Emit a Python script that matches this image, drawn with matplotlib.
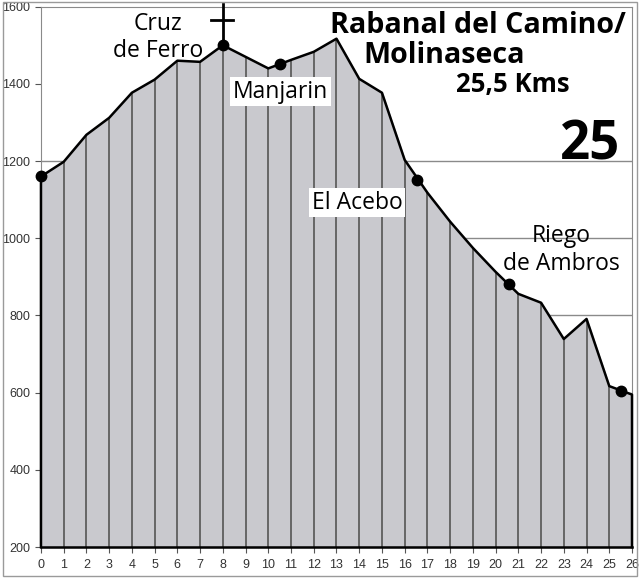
import matplotlib.pyplot as plt
from matplotlib.patches import Rectangle

km = list(range(27))
elevation = [1160, 1198, 1268, 1312, 1377, 1411, 1460, 1457, 1500, 1470,
             1440, 1462, 1483, 1517, 1413, 1377, 1203, 1118, 1043, 975,
             913, 856, 833, 739, 791, 617, 595]

# villages on the way (km, altitude)
stop_km = [0, 8, 10.5, 16.55, 20.6, 25.5]
stop_alt = [1160, 1500, 1452, 1152, 882, 604]

y_ticks = [200, 400, 600, 800, 1000, 1200, 1400, 1600]

fig = plt.figure(figsize=(6.4, 5.78), dpi=100)
ax = fig.add_axes([0.064, 0.0535, 0.9235, 0.935])

ax.set_xlim(0, 26)
ax.set_ylim(200, 1600)

# grid behind the profile (only the lower lines show)
for y in [400, 600, 800, 1000, 1200]:
    ax.axhline(y, color='#8a8a8a', lw=1.0, zorder=0)

ax.fill_between(km, 200, elevation, color='#c9c9ce', zorder=1)
ax.vlines(km[1:-1], 200, elevation[1:-1], color='#5e5e5e', lw=1.3, zorder=2)
ax.plot([0] + km + [26], [200] + elevation + [200], color='black', lw=1.8, zorder=3,
        clip_on=False)
ax.plot([0, 26], [200, 200], color='black', lw=1.8, zorder=3, clip_on=False)
ax.plot(stop_km, stop_alt, 'o', color='black', ms=7.5, zorder=4, clip_on=False)

# cross at Cruz de Ferro
ax.plot([8, 8], [1500, 1606], color='black', lw=2, clip_on=False, zorder=4)
ax.plot([7.5, 8.45], [1566, 1566], color='black', lw=2, clip_on=False, zorder=4)

ax.set_xticks(km)
ax.set_yticks(y_ticks)
ax.tick_params(axis='both', labelsize=9, colors='#555555', labelcolor='#333333',
               length=4, direction='out')
ax.tick_params(axis='x', pad=4.5)
for lab in ax.get_xticklabels() + ax.get_yticklabels():
    lab.set_family('Liberation Sans')
for side in ['top', 'right', 'left']:
    ax.spines[side].set_color('#8a8a8a')
ax.spines['bottom'].set_color('black')

txt = dict(family='Open Sans', color='black', zorder=6)
ax.text(5.15, 1520, 'Cruz\nde Ferro', fontsize=16.5, ha='center', va='center',
        linespacing=1.12, **txt)
ax.text(10.55, 1380, 'Manjarin', fontsize=16.5, ha='center', va='center',
        bbox=dict(facecolor='white', edgecolor='none', pad=2), **txt)
ax.text(13.9, 1092, 'El Acebo', fontsize=16.5, ha='center', va='center',
        bbox=dict(facecolor='white', edgecolor='none', pad=2), **txt)
ax.text(22.9, 970, 'Riego\nde Ambros', fontsize=16.5, ha='center', va='center',
        linespacing=1.2, **txt)

ax.text(12.72, 1533, 'Rabanal del Camino/', fontsize=20.6, fontweight='bold',
        ha='left', va='baseline', **txt)
ax.text(14.17, 1455, 'Molinaseca', fontsize=20.6, fontweight='bold',
        ha='left', va='baseline', **txt)
ax.text(20.77, 1380, '25,5 Kms', fontsize=18.5, fontweight='bold', ha='center',
        va='baseline', **txt)
ax.text(24.15, 1203, '25', fontsize=38, fontweight='bold', ha='center',
        va='baseline', **txt)

fig.patches.append(Rectangle((0.004, 0.004), 0.992, 0.992, transform=fig.transFigure,
                             fill=False, edgecolor='#9a9a9a', lw=1))

plt.savefig('out.png', dpi=100)
